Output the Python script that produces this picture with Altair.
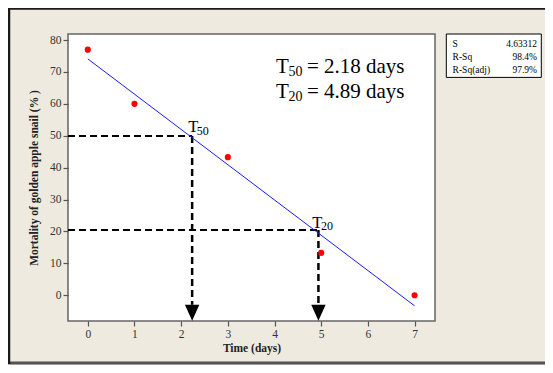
import altair as alt
import pandas as pd

# ---- data ----
days = [0, 1, 3, 5, 7]
mortality = [77, 60, 43.3, 13.3, 0]

fit_x = [0, 7]
fit_y = [74.1, -3.3]

t50_x, t50_y = 2.235, 49.9
t20_x, t20_y = 4.94, 20.5
x_min, x_max = -0.424, 7.437
y_min, y_max = -8.06, 81.9
arrow_y = -5.5
dash_end = -3.0

x_ticks = [0, 1, 2, 3, 4, 5, 6, 7]
y_ticks = [0, 10, 20, 30, 40, 50, 60, 70, 80]

stat_names = ["S", "R-Sq", "R-Sq(adj)"]
stat_values = ["4.63312", "98.4%", "97.9%"]

big_subs = ["50", "20"]
big_rest = ["= 2.18 days", "= 4.89 days"]

SERIF = "Liberation Serif, Times New Roman, serif"

xs = alt.Scale(domain=[x_min, x_max], nice=False, zero=False)
ys = alt.Scale(domain=[y_min, y_max], nice=False, zero=False)

X = alt.X("x:Q", scale=xs, axis=alt.Axis(values=x_ticks, title="Time (days)", format="d"))
Y = alt.Y("y:Q", scale=ys, axis=alt.Axis(values=y_ticks, title="Mortality of golden apple snail (% )", format="d"))

pts = pd.DataFrame({"x": days, "y": mortality})
fit = pd.DataFrame({"x": fit_x, "y": fit_y})

points = alt.Chart(pts).mark_circle(size=38, color="#ff0000", opacity=1).encode(x=X, y=Y)

line = alt.Chart(fit).mark_line(color="#1a1aff", strokeWidth=1).encode(x=X, y=Y)

hdash = pd.DataFrame({"x": [x_min, x_min], "x2": [t50_x, t20_x], "y": [t50_y, t20_y]})
vdash = pd.DataFrame({"x": [t50_x, t20_x], "y": [t50_y, t20_y], "y2": [dash_end, dash_end]})

hrules = alt.Chart(hdash).mark_rule(color="black", strokeWidth=2, strokeDash=[7, 4]).encode(
    x=X, x2="x2:Q", y=Y)
vrules = alt.Chart(vdash).mark_rule(color="black", strokeWidth=2.5, strokeDash=[7, 4]).encode(
    x=X, y=Y, y2="y2:Q")

arrows = alt.Chart(pd.DataFrame({"x": [t50_x, t20_x], "y": [arrow_y, arrow_y]})).mark_point(
    shape="M-0.9,-1L0.9,-1L0,1Z", size=256, filled=True, color="black", opacity=1
).encode(x=X, y=Y)

# big annotation text: T, subscript, rest
big = pd.DataFrame({"x": [4.03, 4.03], "y": [69.7, 61.8], "sub": big_subs, "rest": big_rest, "T": ["T", "T"]})
txt = dict(font=SERIF, align="left", baseline="alphabetic", color="black")
big_T = alt.Chart(big).mark_text(fontSize=21, **txt).encode(x=X, y=Y, text="T:N")
big_S = alt.Chart(big).mark_text(fontSize=14, dx=12.6, dy=3, **txt).encode(x=X, y=Y, text="sub:N")
big_R = alt.Chart(big).mark_text(fontSize=21, dx=31, **txt).encode(x=X, y=Y, text="rest:N")

small = pd.DataFrame({"x": [2.15, 4.81], "y": [51.1, 21.1], "sub": ["50", "20"], "T": ["T", "T"]})
small_T = alt.Chart(small).mark_text(fontSize=16.5, **txt).encode(x=X, y=Y, text="T:N")
small_S = alt.Chart(small).mark_text(fontSize=12, dx=8.6, dy=2.5, **txt).encode(x=X, y=Y, text="sub:N")

# stats box (outside plot area, pixel layout)
box = alt.Chart(pd.DataFrame({"a": [0]})).mark_rect(fill="white", stroke="black", strokeWidth=1).encode(
    x=alt.value(378.3), x2=alt.value(473.3), y=alt.value(0), y2=alt.value(43.4))
stats = pd.DataFrame({"n": stat_names, "v": stat_values, "py": [9.5, 22.5, 36]})
stat_left = alt.Chart(stats).mark_text(font=SERIF, fontSize=9.5, align="left", baseline="middle",
                                        color="black").encode(x=alt.value(384.6), y=alt.Y("py:Q", scale=None), text="n:N")
stat_right = alt.Chart(stats).mark_text(font=SERIF, fontSize=9.5, align="right", baseline="middle",
                                         color="black").encode(x=alt.value(469), y=alt.Y("py:Q", scale=None), text="v:N")

# outer frame of the figure
frame = alt.Chart(pd.DataFrame({"a": [0]})).mark_rect(fillOpacity=0, stroke="#1a1a1a", strokeWidth=2.5).encode(
    x=alt.value(-59), x2=alt.value(520), y=alt.value(-25.5), y2=alt.value(329))
frame_bottom = alt.Chart(pd.DataFrame({"a": [0]})).mark_rule(stroke="#555555", strokeWidth=2.5).encode(
    x=alt.value(-57.5), x2=alt.value(520), y=alt.value(329))

chart = alt.layer(
    frame, frame_bottom, hrules, vrules, arrows, line, points,
    big_T, big_S, big_R, small_T, small_S, box, stat_left, stat_right
).properties(
    width=367, height=287,
    padding={"left": 60, "top": 26, "right": 110, "bottom": 44},
    autosize=alt.AutoSizeParams(type="none"),
    background="#eeeae0",
).configure_view(
    fill="white", stroke="#666666", strokeWidth=1.5
).configure_axis(
    domain=False, grid=False, labelOverlap=False,
    labelFont=SERIF, labelFontSize=11.5, labelColor="#333333",
    tickColor="#555555", tickSize=5, tickWidth=1.2, labelPadding=2,
    titleFont=SERIF, titleFontSize=11.5, titleFontWeight="bold", titleColor="#222222",
).configure_axisX(titlePadding=3).configure_axisY(titlePadding=10)

chart.save("out.html", embed_options={"renderer": "svg", "actions": False})
